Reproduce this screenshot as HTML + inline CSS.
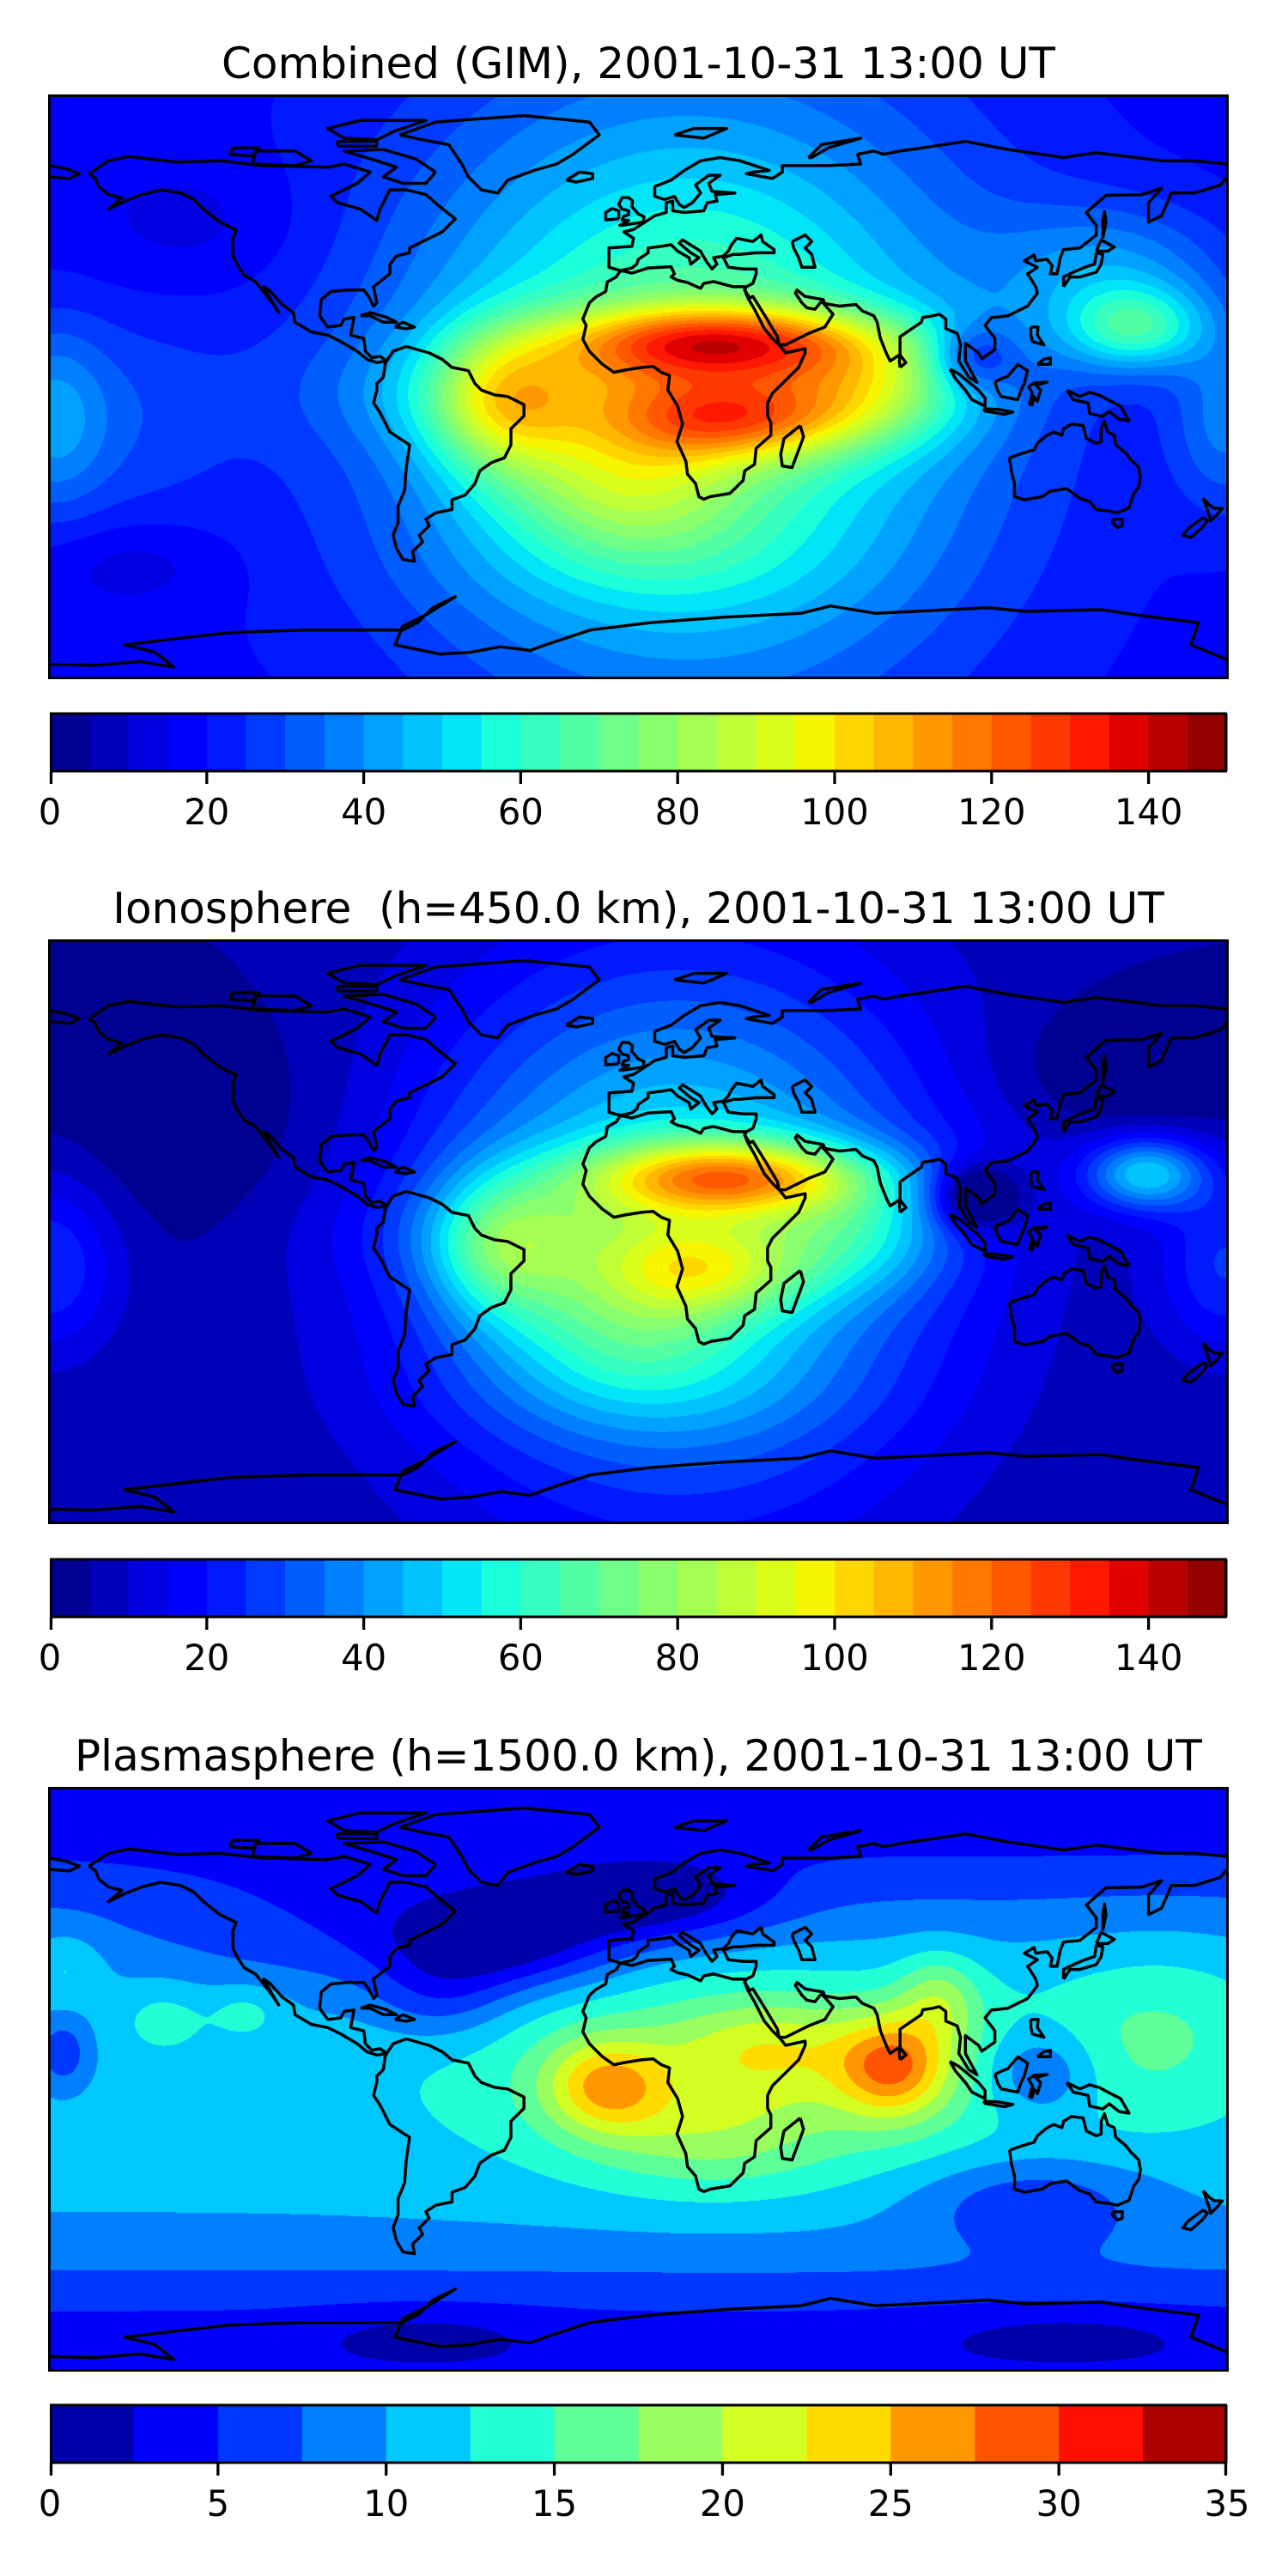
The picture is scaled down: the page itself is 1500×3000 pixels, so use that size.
<!DOCTYPE html>
<html><head><meta charset="utf-8">
<style>
html,body{margin:0;padding:0;background:#fff;}
#root{position:relative;width:1500px;height:3000px;overflow:hidden;font-family:"DejaVu Sans","Liberation Sans",sans-serif;}
.map{position:absolute;left:58px;width:1371px;height:677px;}
.map canvas{position:absolute;left:0;top:0;}
.map svg{position:absolute;left:0;top:0;overflow:hidden;}
.frame{position:absolute;border:3px solid #000;box-sizing:border-box;}
.title{position:absolute;left:0;width:1487px;text-align:center;font-size:50px;line-height:1;}
.cb{position:absolute;left:58px;width:1371px;}
</style></head>
<body>
<div id="root">
  <div class="title" style="top:49px;">Combined (GIM), 2001-10-31 13:00 UT</div>
  <div class="map" id="map0" style="top:112px;"></div>
  <svg class="cb" id="cb0" style="top:820px;" width="1371" height="160"></svg>

  <div class="title" style="top:1033px;">Ionosphere&nbsp; (h=450.0 km), 2001-10-31 13:00 UT</div>
  <div class="map" id="map1" style="top:1096px;"></div>
  <svg class="cb" id="cb1" style="top:1805px;" width="1371" height="160"></svg>

  <div class="title" style="top:2020px;">Plasmasphere (h=1500.0 km), 2001-10-31 13:00 UT</div>
  <div class="map" id="map2" style="top:2083px;"></div>
  <svg class="cb" id="cb2" style="top:2790px;" width="1371" height="160"></svg>
</div>
<script>
// ---------------- data ----------------
const levelStep = [5, 5, 2.5];
const levelMax = [150, 150, 35];
const tickValues0 = [0,20,40,60,80,100,120,140];
const tickValues1 = [0,20,40,60,80,100,120,140];
const tickValues2 = [0,5,10,15,20,25,30,35];
const baseValue = [18, 5, 11];

// Panel 1 field components (lon, lat, amplitude, sigma-lon, sigma-lat)
const p0Lon = [15, 25, 30, -42, 72, 152, 102, -135, -155, -5, -180, 180, 0, -10, 145, -160];
const p0Lat = [0, 14, -10, -5, 0, 18, 9, 50, -55, -30, -10, -10, -55, -2, 35, -10];
const p0Amp = [55, 60, 40, 35, 30, 35, -22, -6, -7, 25, 18, 18, 5, 20, 20, 10];
const p0Sx = [60, 35, 25, 16, 22, 15, 9, 25, 20, 25, 12, 12, 40, 50, 25, 25];
const p0Sy = [62, 8, 9, 16, 12, 9, 7, 15, 10, 15, 20, 20, 12, 12, 15, 25];

// Panel 2 field components
const p1Lon = [12, 28, 20, -42, 68, 155, 103, -135, -180, 180, -5, 0, 150, -10];
const p1Lat = [0, 17, -12, -5, 0, 18, 11, 35, -10, -10, -30, -50, 50, 0];
const p1Amp = [55, 62, 30, 32, 20, 42, -32, -6, 20, 20, 18, 5, -8, 12];
const p1Sx = [55, 30, 22, 16, 20, 13, 9, 35, 15, 15, 25, 45, 30, 45];
const p1Sy = [57, 8, 10, 16, 13, 8, 7, 25, 20, 20, 15, 12, 15, 12];

// Panel 3 field components
const p2Lon = [0, 0, -42, 5, 35, -10, 78, 92, 40, 123, 120, -145, -120, -175, -176, -100, -65, 130, -60, 160, 20];
const p2Lat = [90, -90, 43, 55, 2, -2, 4, 25, 10, 2, -38, 19, 21, 35, 8, 45, -78, -78, 25, 15, -18];
const p2Amp = [-8, -8, -9, -7, 7, 10, 12, 6, 5, -6, -5, 3, 3, 3, -5, -3, -2, -2, -4, 4, 4];
const p2Sx = [1e4, 1e4, 25, 25, 60, 13, 12, 9, 20, 12, 25, 10, 8, 8, 6, 40, 25, 30, 15, 25, 25];
const p2Sy = [28, 24, 11, 9, 22, 10, 11, 10, 10, 10, 10, 8, 6, 8, 8, 15, 6, 6, 10, 20, 12];

const fields = [
  [p0Lon,p0Lat,p0Amp,p0Sx,p0Sy],
  [p1Lon,p1Lat,p1Amp,p1Sx,p1Sy],
  [p2Lon,p2Lat,p2Amp,p2Sx,p2Sy]
];

// Coastlines (lon, lat)
const coasts = [
 [[-168,66],[-162,70],[-156,71.3],[-141,69.6],[-128,70],[-115,68.5],[-95,68],[-90,69],[-82,66.5],[-86,63],[-94,59],[-92,57],[-85,55],[-80,51.5],[-79,55],[-76,61],[-71,61],[-65,59.5],[-61,56],[-56,52],[-60,48],[-66,45],[-70,43],[-70,41.5],[-74,40.5],[-76,38],[-76,35],[-81,31],[-80,26],[-81,25],[-82.5,28],[-84,30],[-89,30],[-94,29.5],[-97,27],[-97.5,22],[-95,18.5],[-91,19],[-90,21],[-87,21.5],[-88,16],[-84,15],[-83.5,11],[-81.5,9],[-79,9.5],[-77,8],[-80,7.5],[-83,8.5],[-86,11],[-91,14],[-95,16],[-100,17],[-105,20],[-105.5,23],[-109,25.5],[-112.5,29.5],[-114.5,31],[-113,28],[-110,23],[-112,26],[-115,30],[-117,32.5],[-120.5,34.5],[-122.5,37.5],[-124,40.5],[-124,46],[-123,48.5],[-128,51],[-133,55],[-136,58],[-140,60],[-146,61],[-152,59.5],[-157,57.5],[-162,55],[-158,58.5],[-162,59.5],[-165,62],[-166,64.5],[-168,66]],
 [[-73,78],[-62,82],[-35,84],[-15,82],[-12,78],[-20,72],[-25,69],[-32,67],[-40,64],[-43,60],[-48,61],[-52,65],[-54,69],[-58,75],[-66,76.5],[-73,78]],
 [[-62,66.5],[-65,63],[-72,63],[-78,65],[-74,68],[-80,70],[-90,73],[-78,73.5],[-68,70.5],[-62,66.5]],
 [[-118,69],[-105,68.5],[-100,70],[-105,73],[-117,73],[-118,69]],
 [[-80,76.5],[-90,77],[-95,80],[-85,82.5],[-65,82.5],[-75,79],[-80,76.5]],
 [[-125,72],[-118,71.5],[-116,74],[-124,74],[-125,72]],
 [[-92,74.5],[-80,74.5],[-80,76],[-92,76],[-92,74.5]],
 [[-85,22],[-82,23],[-77,21.5],[-74,20],[-78,20],[-82,22],[-85,22]],
 [[-74.5,18.5],[-72,20],[-68.5,18.5],[-71,18],[-74.5,18.5]],
 [[-77,8],[-75,11],[-71,12.5],[-64,10.5],[-60,8.5],[-57,6],[-52,5],[-50,1],[-48,-1],[-44,-2.5],[-40,-3],[-35,-5.5],[-35,-9],[-39,-13],[-39,-18],[-41,-22],[-45,-23.5],[-48.5,-26],[-50,-30],[-53,-33.5],[-57,-35],[-57,-38],[-62,-39],[-65,-41],[-64,-43],[-67,-46],[-66,-48],[-69,-51],[-68.5,-54],[-72,-53.5],[-74,-50],[-75,-46],[-73.5,-42],[-73.5,-37],[-71.5,-32],[-71,-25],[-70,-18],[-76,-14],[-79,-8],[-81,-5],[-80,-1],[-80,1],[-78,3],[-77.5,7],[-77,8]],
 [[-5.5,36],[-9,37],[-9,43],[-2,43.5],[-1.5,46],[-4.5,48],[-1.5,48.7],[2,51],[5,53],[8.5,54],[8.5,57],[10.5,57.5],[10.5,54.5],[14,54],[20,54.5],[21,57],[24,57.5],[23.5,59.5],[29.5,60],[22.5,60.5],[21.5,63],[25,65.5],[21.5,65.5],[17.5,62.5],[19,60],[16.5,57],[14,55.5],[12.5,56.5],[11,59],[8,58],[5,59],[5,62],[10,64],[14,67],[19,70],[25,71],[31,70],[40,67],[35,66.5],[33,66],[41,64.5],[44,66.5],[44,68.5],[53,68.5],[58,68.5],[68,69],[67,72],[72,73],[75,72],[80,73],[87,74],[100,76],[113,73.5],[130,71],[140,72.5],[160,70],[170,70],[180,69]],
 [[180,65],[178,62.5],[170,60],[163,60],[160,53],[156,51],[156,57],[160,61.5],[154,59.5],[143,59.3],[137,54],[140,50],[140,47],[135,43],[130,42.5],[129,40],[128,35],[126,35],[126.5,37.5],[125,39.5],[121.5,39],[121,40.8],[118,39],[122,37],[119,35],[121.5,31],[122,29],[119,25],[113,22],[109,21.5],[108,21.5],[106,19],[109,15],[109,11.5],[105,8.7],[104,10.5],[100,13.5],[100,8],[103.5,1.4],[101,3],[98,8],[98.5,13],[97.5,16.5],[94,18],[94,21],[92,22.5],[90,22],[87,21.5],[86.5,20],[80,15.5],[80,10],[77,8],[76,10],[74,15],[73,20],[72,22],[68.5,23.5],[66.5,25.5],[61.5,25],[57,25.8],[56.5,27],[51,28],[48.5,30],[48,29],[50,26],[51.5,24.5],[54,24],[56,26.5],[59.5,22.5],[57,18.5],[52,16.5],[45,13],[43,13],[42.5,15.5],[39,21.5],[35,28],[34,27.5],[32.5,30],[33,31],[35,32],[36,35],[36,36.5],[32,36.5],[27.5,37],[26,40],[29,41],[31,41],[36,41.5],[41.5,41.5],[41.5,42.5],[38,45],[37.5,47],[35,45],[32.5,45.5],[30,46],[28.5,44],[27.5,42],[26,40.5],[23,40],[24,38],[22.5,36.5],[21,38.5],[19.5,41],[19,42],[13.5,45.5],[12.5,44.5],[16,41.5],[18.5,40],[16,38],[15.5,40],[12,42],[10,44],[7,43.5],[3,43],[3,41.5],[0,39.5],[-0.5,38],[-2,36.8],[-5.5,36]],
 [[-180,68.5],[-175,67.5],[-171,66],[-174,64.5],[-180,65]],
 [[47,45],[51,47],[53,45],[51,43],[53,41],[54,37],[50,37],[49,40],[47.5,43],[47,45]],
 [[-5.5,36],[-2,35.2],[3,36.8],[10,37.2],[11,35],[10,34],[12,33],[15,32.3],[19,30.5],[20,32],[23,32.6],[29,31],[32.5,31],[32.5,30],[33.5,27.5],[35.5,24],[37,21],[38.5,18],[41,15],[43.3,12.7],[45,10.5],[51,11.8],[51,10.5],[49,6],[44.5,1.5],[41,-2],[39.5,-5],[39.5,-9],[40.5,-11],[40.5,-15],[36,-19],[35.5,-24],[32.5,-26],[32,-29],[28,-33],[22,-34],[20,-34.8],[18.5,-34],[17.5,-30],[15,-27],[14.5,-23],[11.8,-17],[13.5,-11.5],[12,-6],[9,-1],[9.5,3.5],[7,4.5],[4.5,6.3],[1,6],[-4,5.2],[-7.5,4.5],[-11,7],[-13,9],[-15,11],[-17,14.7],[-16,19],[-17,21],[-15,26],[-13,27.8],[-10,29.5],[-9.5,32.5],[-6.8,34],[-5.5,36]],
 [[49.5,-12],[50.5,-15.5],[47,-25],[44,-24.5],[43.5,-21],[44.5,-16],[49.5,-12]],
 [[-5,50],[1.5,51],[1.7,52.7],[0,53.5],[-2,55.8],[-1.8,57.6],[-3,58.6],[-5,58.6],[-6,56.5],[-5,55],[-3,54.5],[-3,53.3],[-4.5,52.8],[-5,51.7],[-3,51.5],[-5.7,50],[-5,50]],
 [[-6,52],[-6,54.5],[-8,55.2],[-10,54],[-10,51.7],[-6,52]],
 [[-22,64],[-18,66.5],[-14,66],[-14,64.5],[-19,63.4],[-22,64]],
 [[11,78],[17,80],[27,80],[20,77],[11,78]],
 [[52,71],[56,75],[68,77],[58,74],[53,71],[52,71]],
 [[130,31],[132,34],[135,34],[140,35.5],[141.5,38],[142,41],[140,41.5],[139.5,38],[136.5,37],[133,35.5],[130,34],[130,31]],
 [[140,42],[141.5,45.5],[145.5,43.3],[143.5,42],[140,42]],
 [[142,46],[143,51],[142.5,54.3],[142,51],[142,46]],
 [[80,6],[81.8,7.5],[80,9.8],[79.8,8],[80,6]],
 [[120,18.5],[122.2,18.5],[122,16],[124,13],[120.5,14],[120,16],[120,18.5]],
 [[122,7],[126,7],[126,9],[124,8.5],[122,7]],
 [[109,1.5],[111,2.5],[113,3.3],[116,6.9],[119,5],[118,1],[117,-1],[116,-4],[111,-3],[110,-1.5],[109,1.5]],
 [[95.3,5.5],[98,4],[104,-1],[106,-3.5],[106,-6],[102,-4],[100,-1],[97,2.5],[95.3,5.5]],
 [[105.5,-6.8],[110,-7],[114.5,-7.8],[112,-8.5],[106,-7.5],[105.5,-6.8]],
 [[119.5,-5.5],[120.5,-2],[119.3,0],[121,1.2],[125,1.5],[121.5,0.5],[123,-1],[122,-4.5],[121,-3],[120.4,-5.6],[119.5,-5.5]],
 [[131,-1],[135,-3],[138,-1.7],[141,-2.6],[145.5,-5],[147.5,-6],[150,-10.5],[147,-10],[144,-7.6],[142,-9.2],[138,-8.3],[137.5,-5],[133,-4],[131,-1]],
 [[113.5,-22],[114,-26],[115,-30],[115,-34],[118,-35],[123.5,-34],[126,-32.3],[131,-31.5],[135,-34.5],[138,-35.5],[140,-38],[144,-38.5],[146.5,-39],[150,-37.5],[151.5,-33],[153,-31],[153.5,-28],[153,-25],[150.5,-22.5],[149,-20.5],[146,-18],[145.5,-15],[143.5,-14],[142.5,-10.7],[141.5,-13],[141.5,-17],[140,-17.5],[137,-16],[136,-12],[132.5,-11.5],[130,-13],[129.5,-15],[127,-14],[125,-15],[122,-17.5],[121,-19.5],[117,-20.7],[113.5,-22]],
 [[145,-41],[148,-41],[148,-43],[146.5,-43.6],[145,-42],[145,-41]],
 [[172.7,-34.5],[174.5,-36.5],[176,-37.6],[178.5,-37.7],[177,-39.5],[175,-41.5],[174.5,-39.5],[172.7,-34.5]],
 [[172.7,-40.5],[174,-41.5],[172.5,-43.5],[171,-44.8],[169,-46.6],[166.5,-46],[168,-44],[172.7,-40.5]]
];
// Antarctica traced in normalized map units (0..1568)
const antarcticaTrace = [[0,1532],[60,1535],[120,1525],[165,1540],[140,1500],[100,1480],[160,1465],[240,1447],[340,1440],[420,1440],[470,1440],[490,1420],[510,1380],[540,1350],[500,1400],[470,1430],[460,1480],[520,1505],[560,1500],[600,1485],[640,1495],[660,1480],[720,1440],[800,1420],[900,1405],[1000,1395],[1040,1375],[1100,1395],[1150,1390],[1250,1380],[1300,1390],[1400,1385],[1450,1400],[1530,1420],[1520,1480],[1568,1520]];

// ---------------- rendering ----------------
const W = 1371, H = 677;
function xOfLon(lon){ return (lon + 180) / 360 * W; }
function yOfLat(lat){ return (90 - lat) / 180 * H; }
function jetChan(x, pts){
  for (let i = 1; i < pts.length; i++) {
    if (x <= pts[i][0]) { const a = pts[i-1], b = pts[i]; return a[1] + (b[1]-a[1]) * (x-a[0]) / (b[0]-a[0]); }
  }
  return pts[pts.length-1][1];
}
function jet(x){
  const r = jetChan(x, [[0,0],[0.35,0],[0.66,1],[0.89,1],[1,0.5]]);
  const g = jetChan(x, [[0,0],[0.125,0],[0.375,1],[0.64,1],[0.91,0],[1,0]]);
  const b = jetChan(x, [[0,0.5],[0.11,1],[0.34,1],[0.65,0],[1,0]]);
  return [Math.round(r*255), Math.round(g*255), Math.round(b*255)];
}
const NS = 'http://www.w3.org/2000/svg';

for (let p = 0; p < 3; p++) {
  const host = document.getElementById('map' + p);
  const cv = document.createElement('canvas');
  cv.width = W; cv.height = H;
  
  
  host.appendChild(cv);
  const ctx = cv.getContext('2d');
  const img = ctx.createImageData(W, H);
  const [gl, gt, ga, gsx, gsy] = fields[p];
  const n = gl.length;
  const colF = [], rowF = [];
  for (let k = 0; k < n; k++) {
    const cf = new Float32Array(W), rf = new Float32Array(H);
    for (let i = 0; i < W; i++) { const lon = (i + 0.5) / W * 360 - 180; const d = (lon - gl[k]) / gsx[k]; cf[i] = Math.exp(-0.5 * d * d); }
    for (let j = 0; j < H; j++) { const lat = 90 - (j + 0.5) / H * 180; const d = (lat - gt[k]) / gsy[k]; rf[j] = ga[k] * Math.exp(-0.5 * d * d); }
    colF.push(cf); rowF.push(rf);
  }
  const N = Math.round(levelMax[p] / levelStep[p]);
  const pal = [];
  for (let b = 0; b < N; b++) pal.push(jet((b + 0.5) / N));
  const d = img.data;
  for (let j = 0; j < H; j++) {
    for (let i = 0; i < W; i++) {
      let v = baseValue[p];
      for (let k = 0; k < n; k++) v += rowF[k][j] * colF[k][i];
      let b = Math.floor(v / levelStep[p]);
      if (b < 0) b = 0; if (b > N - 1) b = N - 1;
      const c = pal[b], o = (j * W + i) * 4;
      d[o] = c[0]; d[o+1] = c[1]; d[o+2] = c[2]; d[o+3] = 255;
    }
  }
  ctx.putImageData(img, 0, 0);

  // coastlines
  const svg = document.createElementNS(NS, 'svg');
  svg.setAttribute('width', W); svg.setAttribute('height', H);
  
  
  const lines = coasts.map(c => c);
  lines.push(antarcticaTrace.map(q => [q[0] / 1568 * 360 - 180, 90 - q[1] / 1568 * 180]));
  lines.forEach(line => {
    const path = document.createElementNS(NS, 'path');
    
    
    path.setAttribute('d', line.map((q, idx) => (idx ? 'L' : 'M') + xOfLon(q[0]).toFixed(1) + ' ' + yOfLat(q[1]).toFixed(1)).join(''));
    path.setAttribute('fill', 'none'); path.setAttribute('stroke', '#000');
    path.setAttribute('stroke-width', '3.5'); path.setAttribute('stroke-linejoin', 'round');
    svg.appendChild(path);
  });
  host.appendChild(svg);
  const fr = document.createElement('div');
  fr.className = 'frame';
  fr.style.cssText = 'left:-2px;top:-2px;width:' + (W + 4) + 'px;height:' + (H + 4) + 'px;';
  
  
  host.appendChild(fr);

  // colorbar
  const cb = document.getElementById('cb' + p);
  const ticks = [tickValues0, tickValues1, tickValues2][p];
  const cbTop = 11, cbH = 67;
  const cx = v => v / levelMax[p] * W;
  for (let b = 0; b < N; b++) {
    const r = document.createElementNS(NS, 'rect');
    
    
    r.setAttribute('x', cx(b * levelStep[p])); r.setAttribute('y', cbTop);
    r.setAttribute('width', cx(levelStep[p]) + 0.6); r.setAttribute('height', cbH);
    const c = pal[b];
    r.setAttribute('fill', 'rgb(' + c.join(',') + ')');
    cb.appendChild(r);
  }
  const outline = document.createElementNS(NS, 'rect');
  
  
  outline.setAttribute('x', 1.5); outline.setAttribute('y', cbTop); outline.setAttribute('width', W - 3); outline.setAttribute('height', cbH);
  outline.setAttribute('fill', 'none'); outline.setAttribute('stroke', '#000'); outline.setAttribute('stroke-width', '3');
  cb.appendChild(outline);
  ticks.forEach(t => {
    let x = cx(t); x = Math.min(Math.max(x, 1.5), W - 1.5);
    const tk = document.createElementNS(NS, 'line');
    
    
    tk.setAttribute('x1', x); tk.setAttribute('x2', x); tk.setAttribute('y1', cbTop + cbH); tk.setAttribute('y2', cbTop + cbH + 15);
    tk.setAttribute('stroke', '#000'); tk.setAttribute('stroke-width', '3.3');
    cb.appendChild(tk);
    const tx = document.createElementNS(NS, 'text');
    
    
    tx.setAttribute('x', cx(t)); tx.setAttribute('y', cbTop + cbH + 62);
    tx.setAttribute('text-anchor', 'middle');
    tx.setAttribute('font-family', 'DejaVu Sans, Liberation Sans, sans-serif');
    tx.setAttribute('font-size', '41.7');
    tx.textContent = String(t);
    cb.appendChild(tx);
  });
  cb.style.overflow = 'visible';
}
</script>
</body></html>
